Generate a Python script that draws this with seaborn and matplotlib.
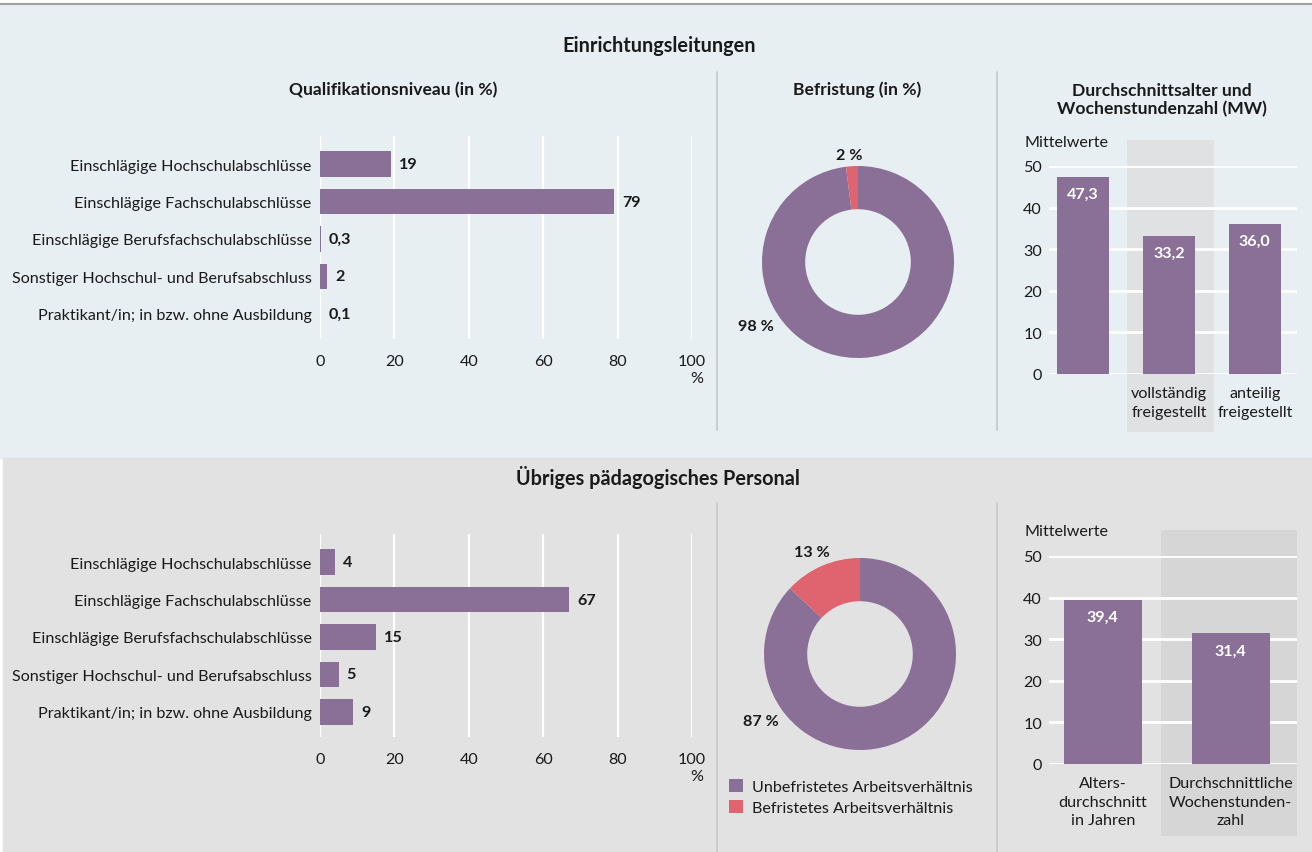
import numpy as np
import pandas as pd
import matplotlib
matplotlib.use('Agg')
import matplotlib.pyplot as plt
from matplotlib.patches import Rectangle
from matplotlib.lines import Line2D
import seaborn as sns

# ---- data ----
qual_labels = ['Einschlägige Hochschulabschlüsse', 'Einschlägige Fachschulabschlüsse',
               'Einschlägige Berufsfachschulabschlüsse', 'Sonstiger Hochschul- und Berufsabschluss',
               'Praktikant/in; in bzw. ohne Ausbildung']
qual_leitung = [19, 79, 0.3, 2, 0.1]
qual_leitung_txt = ['19', '79', '0,3', '2', '0,1']
qual_personal = [4, 67, 15, 5, 9]
qual_personal_txt = ['4', '67', '15', '5', '9']

befr_labels = ['Unbefristetes Arbeitsverhältnis', 'Befristetes Arbeitsverhältnis']
befr_leitung = [98, 2]
befr_personal = [87, 13]

mw_leitung_cats = ['Alter', 'vollständig', 'anteilig']
mw_leitung_ticks = ['', 'vollständig\nfreigestellt', 'anteilig\nfreigestellt']
mw_leitung = [47.3, 33.2, 36.0]
mw_personal_cats = ['Alter', 'Stunden']
mw_personal_ticks = ['Alters-\ndurchschnitt\nin Jahren', 'Durchschnittliche\nWochenstunden-\nzahl']
mw_personal = [39.4, 31.4]

PURPLE = '#8a6f96'
RED = '#e0646f'
BG_TOP = '#e8eff2'
BG_BOT = '#e2e2e2'
TXT = '#1a1a1a'
FS = 11.6

sns.set_style('white')
plt.rcParams['font.family'] = ['Lato', 'DejaVu Sans']
plt.rcParams['text.color'] = TXT
plt.rcParams['xtick.color'] = TXT
plt.rcParams['ytick.color'] = TXT

W, H = 1312, 853
fig = plt.figure(figsize=(W / 100, H / 100), dpi=100)


def rect(x0, y0, x1, y1):
    return [x0 / W, 1 - y1 / H, (x1 - x0) / W, (y1 - y0) / H]


def fx(x):
    return x / W


def fy(y):
    return 1 - y / H


# panel backgrounds
fig.patches.append(Rectangle((0, fy(459)), 1, fy(6) - fy(459), transform=fig.transFigure,
                             color=BG_TOP, zorder=-10))
fig.patches.append(Rectangle((fx(3), 0), 1, fy(459), transform=fig.transFigure,
                             color=BG_BOT, zorder=-10))
fig.add_artist(Line2D([0, 1], [fy(5), fy(5)], color='#a0a0a0', lw=1.5))
for xs in [717, 997]:
    fig.add_artist(Line2D([fx(xs), fx(xs)], [fy(73), fy(431)], color='#c4c8ca', lw=1.2))
    fig.add_artist(Line2D([fx(xs), fx(xs)], [fy(504), fy(853)], color='#c8c8c8', lw=1.2))

# titles
fig.text(fx(659), fy(46), 'Einrichtungsleitungen', ha='center', va='center',
         fontsize=14.3, fontweight='bold')
fig.text(fx(658), fy(478), 'Übriges pädagogisches Personal', ha='center', va='center',
         fontsize=14.3, fontweight='bold')
fig.text(fx(393), fy(90), 'Qualifikationsniveau (in %)', ha='center', va='center',
         fontsize=12.6, fontweight='bold')
fig.text(fx(857), fy(90), 'Befristung (in %)', ha='center', va='center',
         fontsize=12.6, fontweight='bold')
fig.text(fx(1162), fy(100), 'Durchschnittsalter und\nWochenstundenzahl (MW)', ha='center',
         va='center', fontsize=12.6, fontweight='bold', linespacing=1.15)


def hbar(box, vals, txts):
    ax = fig.add_axes(rect(*box))
    df = pd.DataFrame({'label': qual_labels, 'val': vals})
    sns.barplot(data=df, x='val', y='label', orient='h', color=PURPLE, saturation=1,
                width=0.69, linewidth=0, ax=ax, zorder=3)
    ax.set_xlim(0, 100)
    ax.set_ylim(4.67, -0.75)
    ax.set_xticks(range(0, 101, 20))
    ax.set_xlabel('')
    ax.set_ylabel('')
    ax.set_facecolor('none')
    ax.grid(axis='x', color='white', lw=1.6)
    ax.grid(axis='y', visible=False)
    ax.set_axisbelow(True)
    sns.despine(ax=ax, left=True, bottom=True)
    ax.tick_params(axis='both', length=0, labelsize=FS)
    ax.tick_params(axis='y', pad=6)
    ax.tick_params(axis='x', pad=11)
    for i, (v, t) in enumerate(zip(vals, txts)):
        ax.annotate(t, (v, i), xytext=(8, 0), textcoords='offset pixels', ha='left',
                    va='center', fontsize=FS, fontweight='bold')
    ax.annotate('%', xy=(100, 0), xycoords=('data', 'axes fraction'), xytext=(5, -39),
                textcoords='offset pixels', ha='center', va='center', fontsize=FS)
    return ax


hbar((320, 137, 692, 340), qual_leitung, qual_leitung_txt)
hbar((320, 535, 692, 738), qual_personal, qual_personal_txt)


def donut(cx, cy, vals, lab_pos):
    r = 96
    ax = fig.add_axes(rect(cx - r, cy - r, cx + r, cy + r))
    wedges, _ = ax.pie(vals, colors=[PURPLE, RED], startangle=90, counterclock=False,
                       wedgeprops=dict(width=0.45, edgecolor='none', linewidth=0))
    ax.set_xlim(-1, 1)
    ax.set_ylim(-1, 1)
    ax.set_aspect('equal')
    for v, (px, py) in zip(vals, lab_pos):
        ax.text(px, py, f'{v} %', ha='center', va='center', fontsize=FS,
                fontweight='bold', clip_on=False)
    return ax, wedges


donut(858, 263, befr_leitung, [(-1.06, -0.67), (-0.09, 1.11)])
ax_d, wedges = donut(860, 655, befr_personal, [(-1.03, -0.70), (-0.50, 1.06)])
fig.legend(wedges, befr_labels, loc='upper left', bbox_to_anchor=(fx(729), fy(780)),
           frameon=False, fontsize=FS, handlelength=0.85, handleheight=0.85,
           handletextpad=0.6, labelspacing=0.38, borderaxespad=0, borderpad=0)


def vbar(box, cats, ticks, vals, xlim, band, band_y, band_col, mw_y, width):
    ax = fig.add_axes(rect(*box))
    df = pd.DataFrame({'cat': cats, 'val': vals})
    ax.axvspan(band[0], band[1], ymin=band_y[0], ymax=band_y[1], color=band_col,
               lw=0, clip_on=False, zorder=0)
    sns.barplot(data=df, x='cat', y='val', color=PURPLE, saturation=1, width=width,
                linewidth=0, ax=ax, zorder=3)
    ax.set_xlim(*xlim)
    ax.set_ylim(0, 50)
    ax.set_yticks(range(0, 51, 10))
    ax.set_xticks(range(len(cats)))
    ax.set_xticklabels(ticks, linespacing=1.4)
    ax.set_xlabel('')
    ax.set_ylabel('')
    ax.set_facecolor('none')
    ax.grid(axis='y', color='white', lw=2, zorder=1)
    ax.grid(axis='x', visible=False)
    sns.despine(ax=ax, left=True, bottom=True)
    ax.tick_params(axis='both', length=0, labelsize=FS)
    ax.tick_params(axis='y', pad=5)
    ax.tick_params(axis='x', pad=9)
    for i, v in enumerate(vals):
        ax.annotate(f'{v:.1f}'.replace('.', ','), (i, v), xytext=(0, -17),
                    textcoords='offset pixels', ha='center', va='center', color='white',
                    fontsize=FS, fontweight='bold', zorder=5)
    ax.text(-0.097, mw_y, 'Mittelwerte', transform=ax.transAxes, ha='left', va='center',
            fontsize=FS)
    return ax


vbar((1049, 167, 1297, 375), mw_leitung_cats, mw_leitung_ticks, mw_leitung,
     (-0.395, 2.49), (0.51, 1.52), (-0.279, 1.125), '#e0e1e2', 1.115, 0.6)
vbar((1049, 557, 1297, 765), mw_personal_cats, mw_personal_ticks, mw_personal,
     (-0.42, 1.52), (0.46, 1.52), (-0.346, 1.125), '#d6d6d6', 1.12, 0.61)

fig.savefig('out.png', dpi=100)
